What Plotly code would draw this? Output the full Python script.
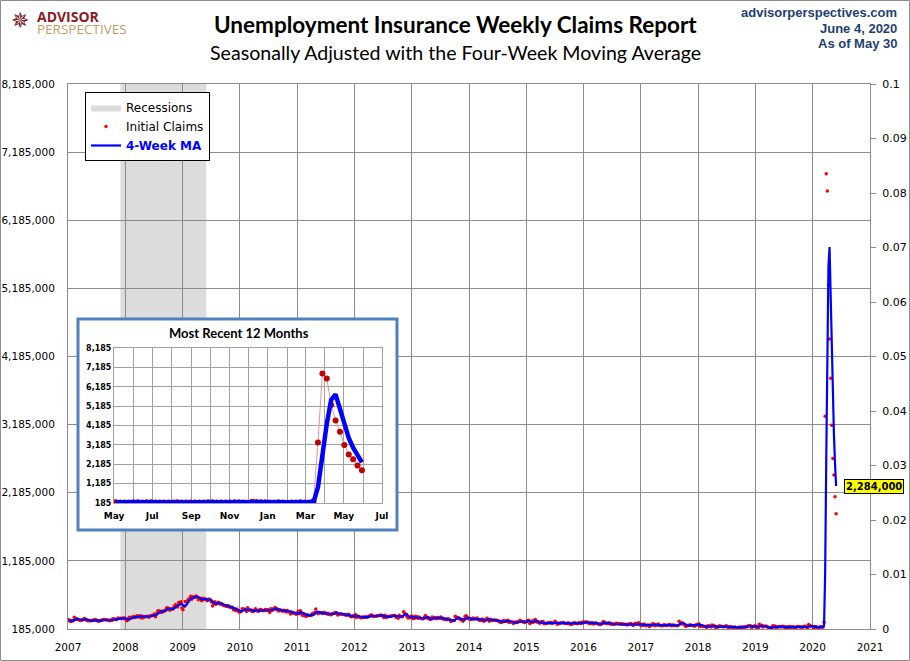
import pandas as pd
import plotly.graph_objects as go

# ---------------- DATA (weekly initial claims, thousands, seasonally adjusted) ----------------
claims_2007 = [321, 300, 296, 311, 307, 357, 327, 336, 328, 322, 314, 311, 318, 324, 338, 332, 317,
               306, 309, 307, 306, 309, 313, 316, 323, 318, 307, 300, 302, 310, 313, 319, 326, 320,
               321, 316, 312, 305, 317, 308, 335, 328, 332, 320, 329, 348, 338, 341, 336, 348, 343, 348]
claims_2008 = [325, 305, 319, 359, 350, 358, 350, 369, 352, 356, 378, 365, 380, 355, 380, 345, 366,
               362, 366, 371, 370, 357, 375, 384, 383, 390, 407, 365, 410, 448, 449, 449, 429, 431, 450,
               451, 461, 494, 497, 478, 462, 478, 478, 484, 515, 542, 529, 509, 575, 554, 586, 492]
claims_2009 = [467, 524, 589, 588, 591, 623, 627, 667, 622, 654, 659, 652, 669, 654, 613, 640, 631,
               601, 637, 623, 625, 621, 601, 608, 627, 614, 582, 522, 554, 584, 550, 558, 576, 570, 548,
               557, 545, 530, 530, 521, 514, 531, 512, 505, 505, 503, 466, 480, 457, 480, 452, 434]
claims_2010 = [433, 444, 482, 470, 480, 465, 442, 496, 468, 462, 458, 442, 441, 460, 484, 456, 448,
               444, 471, 471, 460, 453, 456, 472, 457, 472, 454, 429, 482, 457, 479, 482, 500, 473, 478,
               451, 465, 465, 453, 445, 462, 452, 434, 457, 437, 441, 407, 436, 421, 420, 415, 401]
claims_2011 = [409, 445, 409, 454, 420, 383, 410, 391, 368, 397, 385, 382, 388, 382, 412, 403, 429, 478,
               434, 409, 424, 422, 427, 414, 429, 428, 418, 405, 418, 398, 400, 395, 408, 417, 417,
               428, 423, 391, 401, 404, 405, 403, 397, 397, 390, 388, 393, 402, 381, 366, 364, 381, 372]
claims_2012 = [399, 352, 377, 367, 358, 351, 351, 362, 362, 353, 364, 359, 363, 380, 386, 392, 370,
               368, 372, 372, 383, 380, 387, 387, 386, 374, 352, 388, 353, 366, 363, 372, 372, 374,
               382, 385, 385, 359, 369, 342, 388, 372, 363, 363, 439, 416, 395, 372, 348, 358, 350, 371]
claims_2013 = [372, 335, 341, 371, 366, 341, 362, 344, 340, 334, 336, 357, 385, 346, 352, 339, 325,
               327, 360, 340, 354, 346, 336, 355, 343, 343, 360, 334, 343, 328, 333, 320, 336, 331, 323,
               294, 309, 308, 308, 373, 358, 350, 340, 336, 323, 316, 298, 326, 368, 379, 338, 339]
claims_2014 = [330, 326, 329, 348, 331, 339, 335, 348, 324, 315, 320, 311, 331, 300, 305, 329, 344,
               326, 297, 327, 314, 312, 317, 312, 315, 315, 304, 302, 284, 279, 289, 311, 298, 298, 302,
               315, 280, 295, 287, 287, 264, 283, 287, 279, 293, 291, 313, 297, 294, 289, 281, 286]
claims_2015 = [298, 307, 315, 267, 279, 304, 283, 313, 325, 289, 291, 282, 268, 282, 295, 296, 262,
               265, 264, 274, 282, 276, 279, 267, 271, 282, 297, 281, 255, 267, 270, 274, 277, 282, 276,
               264, 267, 267, 277, 262, 255, 259, 260, 276, 276, 271, 261, 268, 282, 271, 267, 287]
claims_2016 = [277, 284, 293, 278, 285, 269, 262, 272, 278, 259, 265, 276, 267, 267, 253, 248, 257, 274,
               294, 278, 268, 267, 264, 277, 259, 268, 253, 254, 253, 266, 269, 266, 262, 261, 259,
               259, 260, 252, 254, 249, 246, 260, 258, 265, 254, 235, 251, 268, 258, 254, 275, 265, 235]
claims_2017 = [247, 237, 260, 246, 234, 239, 244, 223, 243, 241, 261, 258, 234, 244, 243, 257, 238,
               236, 232, 234, 248, 245, 237, 241, 244, 248, 247, 233, 245, 241, 240, 232, 235, 236,
               298, 282, 259, 272, 260, 243, 223, 233, 240, 238, 249, 240, 238, 236, 225, 245, 247, 250]
claims_2018 = [261, 220, 233, 230, 221, 223, 222, 210, 231, 226, 229, 215, 242, 233, 232, 209, 211,
               214, 222, 234, 221, 222, 218, 218, 227, 231, 214, 207, 217, 218, 212, 212, 210, 213,
               204, 202, 201, 215, 207, 210, 215, 215, 214, 214, 221, 234, 235, 231, 206, 217, 220, 231]
claims_2019 = [216, 213, 199, 253, 234, 239, 216, 225, 223, 229, 221, 211, 202, 196, 193, 230, 230,
               228, 212, 211, 215, 218, 222, 216, 227, 221, 209, 216, 206, 217, 209, 220, 211, 216, 217,
               205, 210, 213, 220, 220, 214, 212, 217, 211, 225, 227, 213, 203, 252, 235, 222, 220]
claims_2020 = [214, 207, 223, 216, 203, 205, 214, 219, 217, 211, 282, 3307, 6867, 6615, 5237, 4442,
               3867, 3176, 2687, 2446, 2126, 1877]

yearly_claims = [claims_2007, claims_2008, claims_2009, claims_2010, claims_2011, claims_2012,
                 claims_2013, claims_2014, claims_2015, claims_2016, claims_2017, claims_2018,
                 claims_2019, claims_2020]
first_saturdays = ["2007-01-06", "2008-01-05", "2009-01-03", "2010-01-02", "2011-01-01", "2012-01-07",
                   "2013-01-05", "2014-01-04", "2015-01-03", "2016-01-02", "2017-01-07", "2018-01-06",
                   "2019-01-05", "2020-01-04"]

recession_start = "2007-12-01"
recession_end = "2009-06-01"

y_ticks_main = [185000 + 1000000 * i for i in range(9)]
y_ticks_right = [0.01 * i for i in range(11)]
y_ticks_inset = [185 + 1000 * i for i in range(9)]

# ---------------- BUILD SERIES ----------------
parts = []
for start, vals in zip(first_saturdays, yearly_claims):
    idx = pd.date_range(start=start, periods=len(vals), freq="7D")
    parts.append(pd.Series(vals, index=idx, dtype=float))
claims_k = pd.concat(parts)
ma_k = claims_k.rolling(4, min_periods=1).mean()
claims = claims_k * 1000
ma = ma_k * 1000

inset_start = pd.Timestamp("2019-05-01")
ins_claims = claims_k[claims_k.index >= inset_start]
ins_ma = ma_k[ma_k.index >= inset_start]

# ---------------- LAYOUT GEOMETRY ----------------
W, H = 910, 661
ML, MR, MT, MB = 68, 40, 84, 32
PW, PH = W - ML - MR, H - MT - MB


def px(x):
    return (x - ML) / PW


def py(y):
    return (H - MB - y) / PH


Y0, Y1 = y_ticks_main[0], y_ticks_main[-1]
GRID = "#8C8C8C"
FONT = "DejaVu Sans"

fig = go.Figure()

# Recessions (legend + shading)
fig.add_trace(go.Scatter(
    x=[recession_start, recession_start, recession_end, recession_end, recession_start],
    y=[Y0, Y1, Y1, Y0, Y0], fill="toself", fillcolor="rgba(140,140,140,0.30)",
    mode="lines", line=dict(width=0, color="rgba(0,0,0,0)"), name="Recessions",
    hoverinfo="skip"))

fig.add_trace(go.Scatter(
    x=claims.index, y=claims.values, mode="markers", name="Initial Claims",
    marker=dict(color="#FF0000", size=3.5, line=dict(width=0))))

fig.add_trace(go.Scatter(
    x=ma.index, y=ma.values, mode="lines", name="<span style='color:#0000FF'><b>4-Week MA</b></span>",
    line=dict(color="#0000FF", width=2.2)))

# right-hand axis holder
fig.add_trace(go.Scatter(x=[], y=[], yaxis="y2", showlegend=False, hoverinfo="skip"))

# dummy subplot used as white inset background
fig.add_trace(go.Scatter(x=[], y=[], xaxis="x2", yaxis="y3", showlegend=False, hoverinfo="skip"))

# inset traces
fig.add_trace(go.Scatter(
    x=ins_claims.index, y=ins_claims.values, mode="lines+markers", xaxis="x3", yaxis="y4",
    line=dict(color="#F09090", width=1), marker=dict(color="#C00000", size=6),
    showlegend=False))
fig.add_trace(go.Scatter(
    x=ins_ma.index, y=ins_ma.values, mode="lines", xaxis="x3", yaxis="y4",
    line=dict(color="#0000FF", width=4.5), showlegend=False))

box = dict(x0=78, x1=397, y0=319, y1=530)
inset = dict(x0=114, x1=382, y0=348, y1=503)

fig.update_layout(
    width=W, height=H, margin=dict(l=ML, r=MR, t=MT, b=MB, autoexpand=False),
    paper_bgcolor="white", plot_bgcolor="white",
    font=dict(family=FONT, size=11, color="black"),
    xaxis=dict(range=["2007-01-01", "2021-01-01"], type="date", dtick="M12", tick0="2007-01-01",
               tickformat="%Y", showgrid=True, gridcolor=GRID, gridwidth=1,
               showline=True, linecolor=GRID, mirror=True, ticks="", tickfont=dict(size=10.5),
               ticklabelstandoff=8, domain=[0, 1], anchor="y"),
    yaxis=dict(range=[Y0, Y1], tickvals=y_ticks_main, tickformat=",d", showgrid=True,
               gridcolor=GRID, gridwidth=1, showline=True, linecolor=GRID, mirror=True,
               ticks="outside", ticklen=0, ticklabelstandoff=10, tickfont=dict(size=10.5),
               zeroline=False, domain=[0, 1], anchor="x"),
    yaxis2=dict(range=[0, 0.1], overlaying="y", side="right", tickvals=y_ticks_right,
                ticktext=[f"{v:g}" for v in y_ticks_right], showgrid=False, zeroline=False,
                ticks="outside", ticklen=5, tickcolor=GRID, tickfont=dict(size=11),
                ticklabelstandoff=4, anchor="x"),
    xaxis2=dict(domain=[px(box["x0"]), px(box["x1"])], range=[0, 1], visible=False, anchor="y3"),
    yaxis3=dict(domain=[py(box["y1"]), py(box["y0"])], range=[0, 1], visible=False, anchor="x2"),
    xaxis3=dict(domain=[px(inset["x0"]), px(inset["x1"])], range=["2019-05-01", "2020-07-01"],
                type="date", dtick="M2", tick0="2019-05-01", tickformat="%b",
                showgrid=True, gridcolor="#A0A0A0", gridwidth=1,
                minor=dict(dtick="M1", showgrid=True, gridcolor="#A0A0A0", gridwidth=1),
                showline=True, linecolor="#A0A0A0", mirror=True, ticks="",
                ticklabelstandoff=4, tickfont=dict(size=9, weight="bold"), anchor="y4"),
    yaxis4=dict(domain=[py(inset["y1"]), py(inset["y0"])], range=[y_ticks_inset[0], y_ticks_inset[-1]],
                tickvals=y_ticks_inset, tickformat=",d", showgrid=True, gridcolor="#A0A0A0",
                gridwidth=1, showline=True, linecolor="#A0A0A0", mirror=True, zeroline=False,
                ticks="", tickfont=dict(size=8, weight="bold"), anchor="x3"),
    legend=dict(x=px(85), y=py(92), xanchor="left", yanchor="top", bgcolor="white",
                bordercolor="black", borderwidth=1, font=dict(size=12, family=FONT),
                tracegroupgap=0, itemwidth=30),
    showlegend=True,
)

shapes = [
    # white background of inset (drawn inside the dummy subplot, above main plot)
    dict(type="rect", xref="x2", yref="y3", x0=0, x1=1, y0=0, y1=1, fillcolor="white",
         line=dict(width=0), layer="below"),
    # inset border
    dict(type="rect", xref="paper", yref="paper", x0=px(box["x0"]), x1=px(box["x1"]),
         y0=py(box["y1"]), y1=py(box["y0"]), line=dict(color="#4F81BD", width=3), layer="above"),
    # outer image border
    dict(type="rect", xref="paper", yref="paper", x0=px(0.5), x1=px(W - 0.5),
         y0=py(H - 0.5), y1=py(0.5), line=dict(color="#8C8C8C", width=1), layer="above"),
]
fig.update_layout(shapes=shapes)

ann = []
ann.append(dict(xref="paper", yref="paper", x=px(455), y=py(25), text="<b>Unemployment Insurance Weekly Claims Report</b>",
                showarrow=False, font=dict(family="Lato", size=22.5, color="black"), xanchor="center", yanchor="middle"))
ann.append(dict(xref="paper", yref="paper", x=px(455), y=py(53), text="Seasonally Adjusted with the Four-Week Moving Average",
                showarrow=False, font=dict(family="Lato", size=19.6, color="black"), xanchor="center", yanchor="middle"))
navy = "#1F3F73"
for txt, yy in [("advisorperspectives.com", 13), ("June 4, 2020", 28), ("As of May 30", 43)]:
    ann.append(dict(xref="paper", yref="paper", x=px(899), y=py(yy), text=f"<b>{txt}</b>", showarrow=False,
                    font=dict(family="Liberation Sans", size=13, color=navy), xanchor="right", yanchor="middle"))
# logo
ann.append(dict(xref="paper", yref="paper", x=px(20), y=py(21), text="✵", showarrow=False,
                font=dict(family="DejaVu Sans", size=22, color="#7A1420"), xanchor="center", yanchor="middle"))
ann.append(dict(xref="paper", yref="paper", x=px(35), y=py(22), showarrow=False, align="left",
                text="<span style='font-size:14px;color:#8B1A24'><b>ADVISOR</b></span><br>"
                     "<span style='font-size:13.5px;color:#BFA064'>PERSPECTIVES</span>",
                font=dict(family="Open Sans", size=9, color="#8B1A24"), xanchor="left", yanchor="middle"))
# inset title
ann.append(dict(xref="paper", yref="paper", x=px(239), y=py(333), text="<b>Most Recent 12 Months</b>",
                showarrow=False, font=dict(family="Lato", size=13, color="black"), xanchor="center", yanchor="middle"))
# last MA value label
ann.append(dict(x=ma.index[-1], y=ma.values[-1], xref="x", yref="y", text=f"<b>{ma.values[-1]:,.0f}</b>",
                showarrow=False, xanchor="left", yanchor="middle", xshift=8,
                bgcolor="#FFFF00", bordercolor="black", borderwidth=1, borderpad=1,
                font=dict(family=FONT, size=10, color="black")))
fig.update_layout(annotations=ann)

fig.write_html("out.html")
